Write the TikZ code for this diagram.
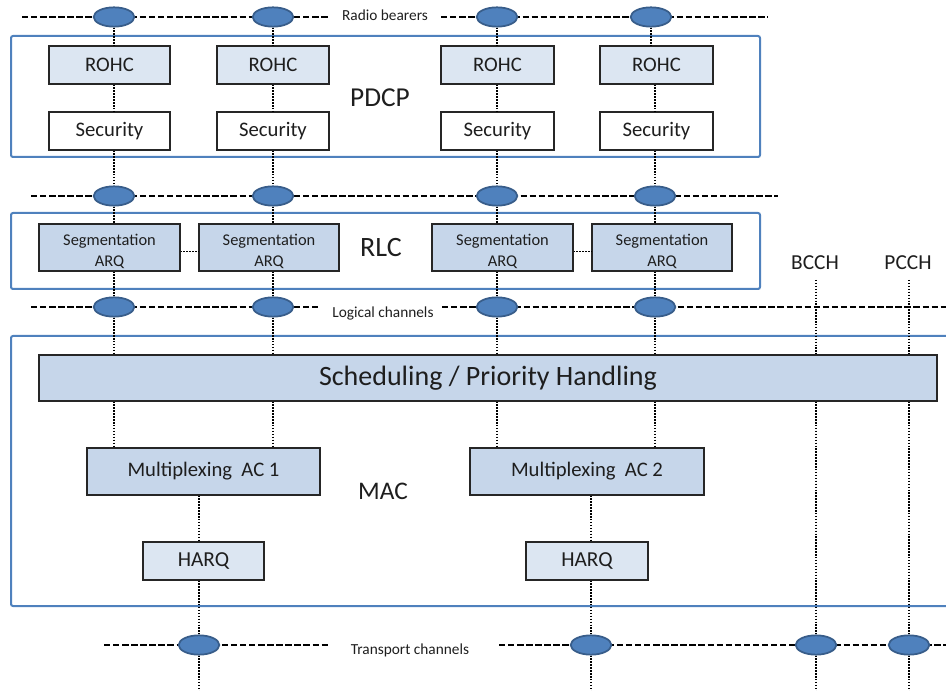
\documentclass[tikz,border=0pt]{standalone}
\usepackage{fontspec}
\setmainfont{Carlito}
\usetikzlibrary{shapes.geometric,calc}
\definecolor{layerblue}{HTML}{4F81BD}
\definecolor{ellborder}{HTML}{385D8A}
\definecolor{lightfill}{HTML}{DCE6F2}
\definecolor{midfill}{HTML}{C6D6EA}
\definecolor{txt}{HTML}{1E1E1E}
\tikzset{
  layer/.style={draw=layerblue, line width=1.5pt, rounded corners=1.5pt},
  boxbase/.style={draw=black!85, line width=0.8pt, inner sep=0pt, text=txt},
  lightbox/.style={boxbase, fill=lightfill},
  whitebox/.style={boxbase, fill=white},
  midbox/.style={boxbase, fill=midfill},
  chan/.style={ellipse, draw=ellborder, fill=layerblue, line width=1.3pt, minimum width=30.5pt, minimum height=14.5pt, inner sep=0pt},
  dashline/.style={draw=black, line width=1.3pt, dash pattern=on 4.8pt off 2pt},
  dotline/.style={draw=black, line width=1.4pt, dash pattern=on 1.1pt off 1.1pt},
  lbl/.style={text=txt, inner sep=0pt},
}
\newcommand\pxbox[7]{\node[#1, minimum width={(#4-#2)*0.75pt}, minimum height={(#5-#3)*0.75pt}] (#6) at ({(#2+#4)/2},{(#3+#5)/2}) {#7};}
\begin{document}
\begin{tikzpicture}[x=0.75pt,y=-0.75pt]
\useasboundingbox (0,0) rectangle (946,691);
% layer frames
\draw[layer] (11,36) rectangle (760,157);
\draw[layer] (11,213) rectangle (760,289);
\draw[layer] (11,336) rectangle (960,606);
% channel line end points
\coordinate (rbA) at (22,17);  \coordinate (rbB) at (330,17);
\coordinate (rbC) at (441,17); \coordinate (rbD) at (768,17);
\coordinate (pdA) at (31,196); \coordinate (pdB) at (778,196);
\coordinate (lcA) at (31,307); \coordinate (lcB) at (320,307);
\coordinate (lcC) at (442,307); \coordinate (lcD) at (946,307);
\coordinate (tcA) at (104,645); \coordinate (tcB) at (329,645);
\coordinate (tcC) at (499,645); \coordinate (tcD) at (946,645);
\draw[dashline] (rbA) -- (rbB);
\draw[dashline] (rbC) -- (rbD);
\draw[dashline] (pdA) -- (pdB);
\draw[dashline] (lcA) -- (lcB);
\draw[dashline] (lcC) -- (lcD);
\draw[dashline] (tcA) -- (tcB);
\draw[dashline] (tcC) -- (tcD);
\node[lbl, font=\fontsize{11.5}{13}\selectfont] (rblbl) at (385,15) {Radio bearers};
\node[lbl, font=\fontsize{11.5}{13}\selectfont] (lclbl) at (383,313) {Logical channels};
\node[lbl, font=\fontsize{11.5}{13}\selectfont] (tclbl) at (410,650) {Transport channels};
% boxes
\pxbox{lightbox, font=\fontsize{15.5}{17}\selectfont}{49}{46}{170}{84}{rohc1}{ROHC}
\pxbox{lightbox, font=\fontsize{15.5}{17}\selectfont}{217}{46}{329}{84}{rohc2}{ROHC}
\pxbox{lightbox, font=\fontsize{15.5}{17}\selectfont}{441}{46}{554}{84}{rohc3}{ROHC}
\pxbox{lightbox, font=\fontsize{15.5}{17}\selectfont}{600}{46}{713}{84}{rohc4}{ROHC}
\pxbox{whitebox, font=\fontsize{15.5}{17}\selectfont}{49}{112}{170}{150}{sec1}{Security}
\pxbox{whitebox, font=\fontsize{15.5}{17}\selectfont}{217}{112}{329}{150}{sec2}{Security}
\pxbox{whitebox, font=\fontsize{15.5}{17}\selectfont}{441}{112}{554}{150}{sec3}{Security}
\pxbox{whitebox, font=\fontsize{15.5}{17}\selectfont}{600}{112}{713}{150}{sec4}{Security}
\pxbox{midbox, font=\fontsize{12.3}{15.5}\selectfont, align=center}{39}{224}{180}{271}{seg1}{\rule{0pt}{14pt}Segmentation\\ARQ}
\pxbox{midbox, font=\fontsize{12.3}{15.5}\selectfont, align=center}{199}{224}{339}{271}{seg2}{\rule{0pt}{14pt}Segmentation\\ARQ}
\pxbox{midbox, font=\fontsize{12.3}{15.5}\selectfont, align=center}{432}{224}{573}{271}{seg3}{\rule{0pt}{14pt}Segmentation\\ARQ}
\pxbox{midbox, font=\fontsize{12.3}{15.5}\selectfont, align=center}{592}{224}{732}{271}{seg4}{\rule{0pt}{14pt}Segmentation\\ARQ}
\pxbox{midbox, font=\fontsize{21}{24}\selectfont}{39}{355}{937}{401}{sched}{Scheduling / Priority Handling}
\pxbox{midbox, font=\fontsize{15.5}{17}\selectfont}{87}{448}{320}{495}{mux1}{Multiplexing\ \ AC 1}
\pxbox{midbox, font=\fontsize{15.5}{17}\selectfont}{470}{448}{704}{495}{mux2}{Multiplexing\ \ AC 2}
\pxbox{lightbox, font=\fontsize{16}{18}\selectfont}{143}{542}{264}{580}{harq1}{HARQ}
\pxbox{lightbox, font=\fontsize{16}{18}\selectfont}{526}{542}{648}{580}{harq2}{HARQ}
% layer labels
\node[lbl, font=\fontsize{20.5}{23}\selectfont] (pdcp) at (380,98) {PDCP};
\node[lbl, font=\fontsize{21}{24}\selectfont] (rlc) at (381,248) {RLC};
\node[lbl, font=\fontsize{19}{22}\selectfont] (mac) at (383,491) {MAC};
\node[lbl, font=\fontsize{16}{18}\selectfont] (bcch) at (815,263) {BCCH};
\node[lbl, font=\fontsize{16}{18}\selectfont] (pcch) at (908,263) {PCCH};
% ellipses
\node[chan] (e11) at (114,17) {};
\node[chan] (e12) at (273,17) {};
\node[chan] (e13) at (497,17) {};
\node[chan] (e14) at (651,17) {};
\node[chan] (e21) at (114,196) {};
\node[chan] (e22) at (273,196) {};
\node[chan] (e23) at (497,196) {};
\node[chan] (e24) at (655,196) {};
\node[chan] (e31) at (114,307) {};
\node[chan] (e32) at (273,307) {};
\node[chan] (e33) at (497,307) {};
\node[chan] (e34) at (655,307) {};
\node[chan] (t1) at (199,645) {};
\node[chan] (t2) at (591,645) {};
\node[chan] (t3) at (816,645) {};
\node[chan] (t4) at (909,645) {};
% dotted connectors
\foreach \k in {1,2,3,4} {
  \draw[dotline] (e1\k.south) -- (e1\k |- rohc\k.north);
  \draw[dotline] (e2\k |- rohc\k.south) -- (e2\k |- sec\k.north);
  \draw[dotline] (e2\k |- sec\k.south) -- (e2\k.north);
  \draw[dotline] (e2\k.south) -- (e2\k |- seg\k.north);
  \draw[dotline] (e3\k |- seg\k.south) -- (e3\k.north);
  \draw[dotline] (e3\k.south) -- (e3\k |- sched.north);
}
\draw[dotline] (e31 |- sched.south) -- (e31 |- mux1.north);
\draw[dotline] (e32 |- sched.south) -- (e32 |- mux1.north);
\draw[dotline] (e33 |- sched.south) -- (e33 |- mux2.north);
\draw[dotline] (e34 |- sched.south) -- (e34 |- mux2.north);
\draw[dotline] (t1 |- mux1.south) -- (t1 |- harq1.north);
\draw[dotline] (t2 |- mux2.south) -- (t2 |- harq2.north);
\draw[dotline] (t1 |- harq1.south) -- (t1.north);
\draw[dotline] (t2 |- harq2.south) -- (t2.north);
\coordinate (b1) at (199,691); \coordinate (b2) at (591,691);
\coordinate (b3) at (816,691); \coordinate (b4) at (909,691);
\coordinate (bcTop) at (816,280); \coordinate (pcTop) at (909,280);
\draw[dotline] (t1.south) -- (b1);
\draw[dotline] (t2.south) -- (b2);
\draw[dotline] (bcTop) -- (t3 |- sched.north);
\draw[dotline] (t3 |- sched.south) -- (t3.north);
\draw[dotline] (t3.south) -- (b3);
\draw[dotline] (pcTop) -- (t4 |- sched.north);
\draw[dotline] (t4 |- sched.south) -- (t4.north);
\draw[dotline] (t4.south) -- (b4);
\draw[dotline] ([yshift=-3pt]seg1.east) -- ([yshift=-3pt]seg2.west);
\draw[dotline] ([yshift=-3pt]seg3.east) -- ([yshift=-3pt]seg4.west);
\end{tikzpicture}
\end{document}
